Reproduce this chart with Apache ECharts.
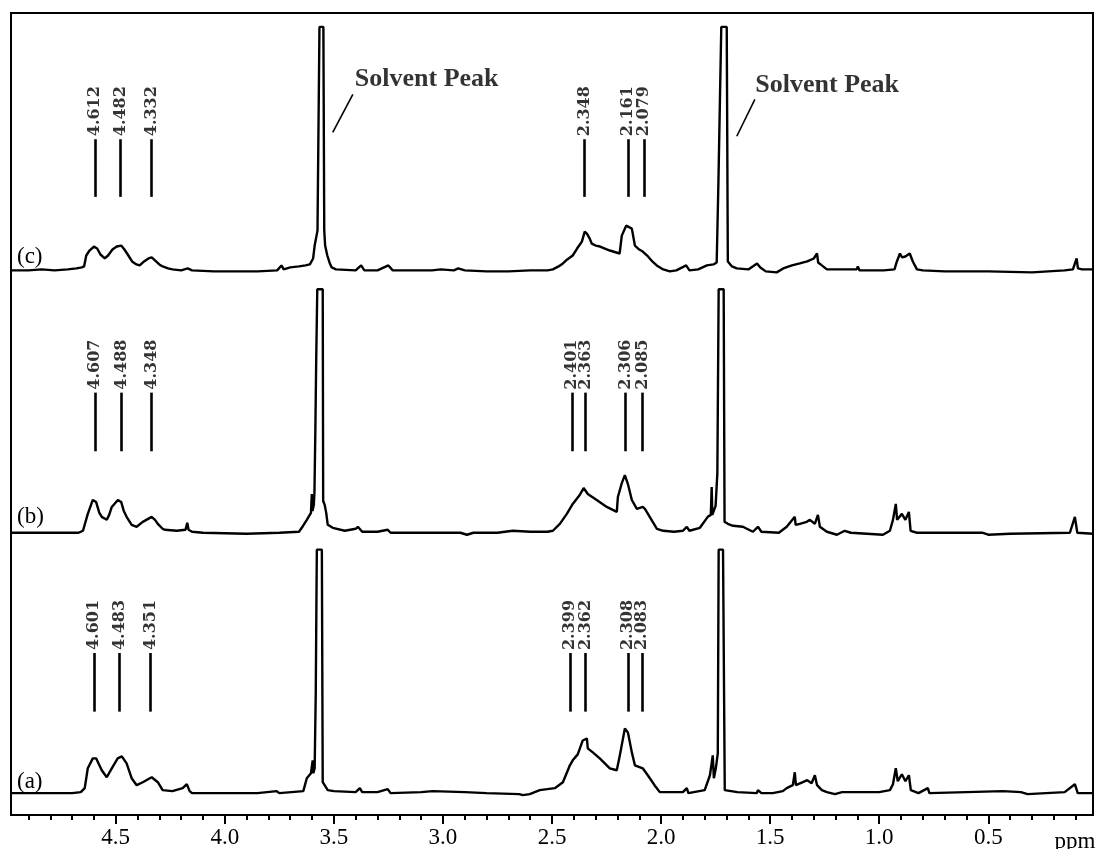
<!DOCTYPE html>
<html><head><meta charset="utf-8">
<script src="https://cdn.jsdelivr.net/npm/echarts@6/dist/echarts.min.js"></script>
<style>html,body{margin:0;padding:0;background:#fff}#c{width:1099px;height:849px}</style>
</head><body><div id="c"></div>
<script>
// ---- data ----
const majorTicks = [0.5, 1.0, 1.5, 2.0, 2.5, 3.0, 3.5, 4.0, 4.5];
const minorTicks = [0.1,0.2,0.3,0.4,0.6,0.7,0.8,0.9,1.1,1.2,1.3,1.4,1.6,1.7,1.8,1.9,2.1,2.2,2.3,2.4,2.6,2.7,2.8,2.9,3.1,3.2,3.3,3.4,3.6,3.7,3.8,3.9,4.1,4.2,4.3,4.4,4.6,4.7,4.8,4.9];

const traceA = [[4.98,0],[4.80,0],[4.70,0],[4.66,1],[4.642,5],[4.628,25],[4.605,35],[4.59,35],[4.564,23],[4.541,16],[4.518,25],[4.491,35],[4.472,37],[4.45,30],[4.427,15],[4.404,8],[4.376,11],[4.335,16],[4.307,11],[4.285,3],[4.24,2],[4.193,5],[4.174,9],[4.161,2],[4.15,0],[4.00,0],[3.85,0],[3.762,2],[3.75,0],[3.64,2],[3.624,15],[3.605,20],[3.597,33],[3.594,20],[3.588,25],[3.583,100],[3.580,190],[3.578,245],[3.555,245],[3.551,11],[3.528,3],[3.50,2],[3.40,1],[3.381,5],[3.37,1],[3.30,1],[3.253,4],[3.24,0],[3.10,1],[3.047,2],[2.90,1],[2.80,0],[2.65,-1],[2.634,-2],[2.602,-1],[2.556,3],[2.487,5],[2.45,11],[2.418,28],[2.405,33],[2.382,39],[2.359,53],[2.34,55],[2.336,45],[2.313,41],[2.281,35],[2.235,25],[2.203,23],[2.189,38],[2.166,65],[2.152,61],[2.134,41],[2.120,28],[2.084,25],[2.061,18],[2.03,8],[2.006,1],[1.90,1],[1.882,5],[1.875,0],[1.80,3],[1.776,18],[1.763,38],[1.758,15],[1.749,25],[1.740,40],[1.736,245],[1.716,245],[1.708,3],[1.65,1],[1.561,0],[1.556,3],[1.54,0],[1.488,0],[1.442,2],[1.424,5],[1.396,8],[1.387,21],[1.382,8],[1.35,11],[1.33,13],[1.31,10],[1.295,18],[1.285,8],[1.263,3],[1.24,1],[1.203,-1],[1.17,1],[1.00,1],[0.951,3],[0.937,9],[0.924,25],[0.915,12],[0.896,19],[0.88,12],[0.864,18],[0.855,3],[0.82,0],[0.777,5],[0.77,0],[0.60,1],[0.433,2],[0.35,1],[0.32,-1],[0.15,1],[0.103,9],[0.09,0],[0.02,0]];

const traceB = [[4.98,0],[4.85,0],[4.75,0],[4.67,0],[4.65,2],[4.628,19],[4.605,33],[4.59,31],[4.575,20],[4.564,16],[4.541,13],[4.53,18],[4.518,26],[4.49,33],[4.475,31],[4.463,22],[4.45,16],[4.427,8],[4.404,6],[4.376,11],[4.335,16],[4.32,13],[4.307,9],[4.285,4],[4.275,3],[4.22,2],[4.18,3],[4.172,10],[4.166,3],[4.15,1],[4.10,0],[3.90,-1],[3.75,0],[3.66,1],[3.647,5],[3.624,13],[3.605,20],[3.601,39],[3.598,22],[3.592,28],[3.589,40],[3.585,100],[3.581,172],[3.576,245],[3.551,245],[3.549,32],[3.542,28],[3.535,20],[3.528,8],[3.505,5],[3.45,2],[3.40,4],[3.39,6],[3.37,1],[3.30,1],[3.253,3],[3.24,0],[3.10,0],[3.00,0],[2.92,0],[2.89,-2],[2.86,0],[2.75,0],[2.68,2],[2.60,1],[2.52,1],[2.496,2],[2.464,9],[2.432,19],[2.405,29],[2.373,38],[2.355,45],[2.35,47],[2.336,39],[2.295,33],[2.249,26],[2.203,21],[2.198,36],[2.18,50],[2.166,58],[2.152,49],[2.134,33],[2.111,24],[2.084,26],[2.074,24],[2.052,16],[2.03,8],[2.019,4],[1.99,2],[1.94,1],[1.90,2],[1.882,6],[1.87,2],[1.822,5],[1.786,16],[1.772,18],[1.768,46],[1.765,18],[1.75,27],[1.742,60],[1.736,245],[1.713,245],[1.709,11],[1.694,9],[1.67,7],[1.625,6],[1.579,1],[1.556,6],[1.54,1],[1.46,0],[1.424,6],[1.387,16],[1.383,8],[1.364,9],[1.332,11],[1.318,13],[1.295,9],[1.281,18],[1.272,6],[1.24,1],[1.194,-2],[1.158,2],[1.13,0],[0.983,-2],[0.951,2],[0.937,13],[0.924,29],[0.918,13],[0.896,19],[0.88,13],[0.864,21],[0.856,2],[0.827,0],[0.70,0],[0.525,0],[0.50,-2],[0.40,-1],[0.126,0],[0.103,16],[0.092,0],[0.02,-1]];

const traceC = [[4.98,0],[4.90,0],[4.84,1],[4.78,0],[4.72,1],[4.68,2],[4.655,3],[4.645,4],[4.635,15],[4.62,20],[4.60,24],[4.585,22],[4.57,16],[4.55,12],[4.535,15],[4.515,21],[4.495,24],[4.475,25],[4.46,21],[4.445,16],[4.425,9],[4.405,6],[4.39,5],[4.37,9],[4.35,12],[4.335,13],[4.32,10],[4.30,6],[4.285,4],[4.26,2],[4.24,1],[4.20,0],[4.17,2],[4.15,0],[4.05,-1],[3.95,-1],[3.85,-1],[3.76,0],[3.74,5],[3.73,1],[3.70,3],[3.66,4],[3.63,5],[3.61,6],[3.595,12],[3.588,25],[3.575,40],[3.566,245],[3.548,245],[3.544,40],[3.54,25],[3.53,15],[3.52,8],[3.51,3],[3.49,1],[3.40,0],[3.375,5],[3.36,0],[3.30,0],[3.25,5],[3.23,0],[3.15,0],[3.05,0],[3.01,1],[2.95,0],[2.93,2],[2.90,0],[2.80,-1],[2.70,-1],[2.60,0],[2.52,0],[2.496,1],[2.47,4],[2.45,7],[2.43,11],[2.405,15],[2.385,22],[2.363,29],[2.35,39],[2.34,37],[2.327,32],[2.318,27],[2.30,25],[2.28,24],[2.235,20],[2.19,17],[2.18,35],[2.16,45],[2.152,47],[2.134,42],[2.12,25],[2.10,21],[2.084,19],[2.06,14],[2.04,9],[2.02,5],[1.99,1],[1.96,-1],[1.93,0],[1.885,5],[1.87,0],[1.83,1],[1.79,5],[1.76,6],[1.745,8],[1.737,90],[1.724,245],[1.699,245],[1.694,9],[1.675,4],[1.653,2],[1.60,1],[1.56,7],[1.545,3],[1.52,-1],[1.47,-2],[1.44,2],[1.40,5],[1.364,7],[1.33,9],[1.30,12],[1.285,17],[1.28,8],[1.263,5],[1.24,1],[1.15,1],[1.103,1],[1.098,4],[1.09,0],[0.98,0],[0.93,1],[0.919,9],[0.905,17],[0.895,13],[0.88,14],[0.86,17],[0.846,9],[0.827,1],[0.80,0],[0.70,-1],[0.50,-1],[0.30,-2],[0.15,0],[0.112,1],[0.095,12],[0.089,2],[0.07,1],[0.02,1]];

const peaksA = [4.600, 4.482, 4.340, 2.418, 2.346, 2.151, 2.087];
const peakLabelsA = ['4.601', '4.483', '4.351', '2.399', '2.362', '2.308', '2.083'];
const peaksB = [4.596, 4.473, 4.335, 2.409, 2.346, 2.162, 2.085];
const peakLabelsB = ['4.607', '4.488', '4.348', '2.401', '2.363', '2.306', '2.085'];
const peaksC = [4.596, 4.478, 4.336, 2.350, 2.151, 2.078];
const peakLabelsC = ['4.612', '4.482', '4.332', '2.348', '2.161', '2.079'];

const solventText = ['Solvent Peak', 'Solvent Peak'];
const solventAt = [3.404, 1.568];
const solventLeader = [[3.505, 3.413], [1.653, 1.570]];
const traceNames = ['(a)', '(b)', '(c)'];

// ---- layout (positions / styles) ----
const X_MIN = 0.02, X_MAX = 4.98;
const Y_MAX = 807;
const offsets = [22, 284, 548];           // baseline of a, b, c
const markRange = [[82, 141], [82, 141], [74, 132]];
const serif = '"Liberation Serif","DejaVu Serif",serif';
const wideSerif = '"DejaVu Serif","Liberation Serif",serif';
const INK = '#000';

const chart = echarts.init(document.getElementById('c'), null, {renderer: 'canvas'});

function shift(arr, off) { return arr.map(p => [p[0], p[1] + off]); }

const traces = [traceA, traceB, traceC];
const peaks = [peaksA, peaksB, peaksC];
const peakLabels = [peakLabelsA, peakLabelsB, peakLabelsC];

const series = [];
traces.forEach((t, i) => {
  const off = offsets[i];
  const [lo, hi] = markRange[i];
  series.push({
    type: 'line', data: shift(t, off), showSymbol: false, symbol: 'none',
    lineStyle: {color: INK, width: 2.4}, silent: true, animation: false, clip: true,
    markLine: {
      symbol: 'none', silent: true, animation: false,
      lineStyle: {color: INK, width: 2.6, type: 'solid'},
      label: {show: false},
      data: peaks[i].map(p => [{coord: [p, off + lo]}, {coord: [p, off + hi]}])
    }
  });
  series.push({
    type: 'scatter', symbolSize: 0, silent: true, animation: false,
    data: peaks[i].map((p, k) => ({value: [p, off + hi + 3], name: peakLabels[i][k]})),
    label: {
      show: true, formatter: d => d.name, rotate: 90, position: [0, 0],
      align: 'left', verticalAlign: 'middle',
      fontFamily: wideSerif, fontSize: 16, fontWeight: 'bold', color: INK
    }
  });
});

// solvent annotations (drawn relative to trace c)
series.push({
  type: 'scatter', symbolSize: 0, silent: true, animation: false,
  data: solventAt.map((p, k) => ({value: [p, k === 0 ? 740 : 734], name: solventText[k]})),
  label: {
    show: true, formatter: d => d.name, position: [0, 0], align: 'left', verticalAlign: 'middle',
    fontFamily: serif, fontSize: 26, fontWeight: 'bold', color: INK
  },
  markLine: {
    symbol: 'none', silent: true, animation: false,
    lineStyle: {color: INK, width: 1.6, type: 'solid'}, label: {show: false},
    data: [
      [{coord: [solventLeader[0][0], 687]}, {coord: [solventLeader[0][1], 725]}],
      [{coord: [solventLeader[1][0], 683]}, {coord: [solventLeader[1][1], 720]}]
    ]
  }
});

const nameY = [782, 517, 257];
const graphics = traceNames.map((n, i) => ({
  type: 'text', x: 17, y: nameY[i], silent: true,
  style: {text: n, font: '23px ' + serif, fill: INK, verticalAlign: 'middle'}
}));
graphics.push({
  type: 'text', x: 1075, y: 842, silent: true,
  style: {text: 'ppm', font: '23px ' + serif, fill: INK, align: 'center', verticalAlign: 'middle'}
});

chart.setOption({
  animation: false,
  backgroundColor: '#fff',
  grid: {left: 11, right: 6, top: 13, bottom: 29, show: true, borderColor: INK, borderWidth: 2, containLabel: false},
  xAxis: [{
    type: 'value', min: X_MIN, max: X_MAX, inverse: true, position: 'bottom',
    splitLine: {show: false},
    axisLine: {show: true, lineStyle: {color: INK, width: 2}},
    axisTick: {show: true, customValues: majorTicks, length: 9, lineStyle: {color: INK, width: 2}},
    axisLabel: {show: true, customValues: majorTicks, formatter: v => v.toFixed(1), margin: 11,
      fontFamily: serif, fontSize: 23, color: INK}
  }, {
    type: 'value', min: X_MIN, max: X_MAX, inverse: true, position: 'bottom',
    splitLine: {show: false}, axisLine: {show: false},
    axisTick: {show: true, customValues: minorTicks, length: 5, lineStyle: {color: INK, width: 2}},
    axisLabel: {show: false}
  }],
  yAxis: {type: 'value', min: 0, max: Y_MAX, show: false, splitLine: {show: false}},
  graphic: graphics,
  series: series
});
</script>
</body></html>
